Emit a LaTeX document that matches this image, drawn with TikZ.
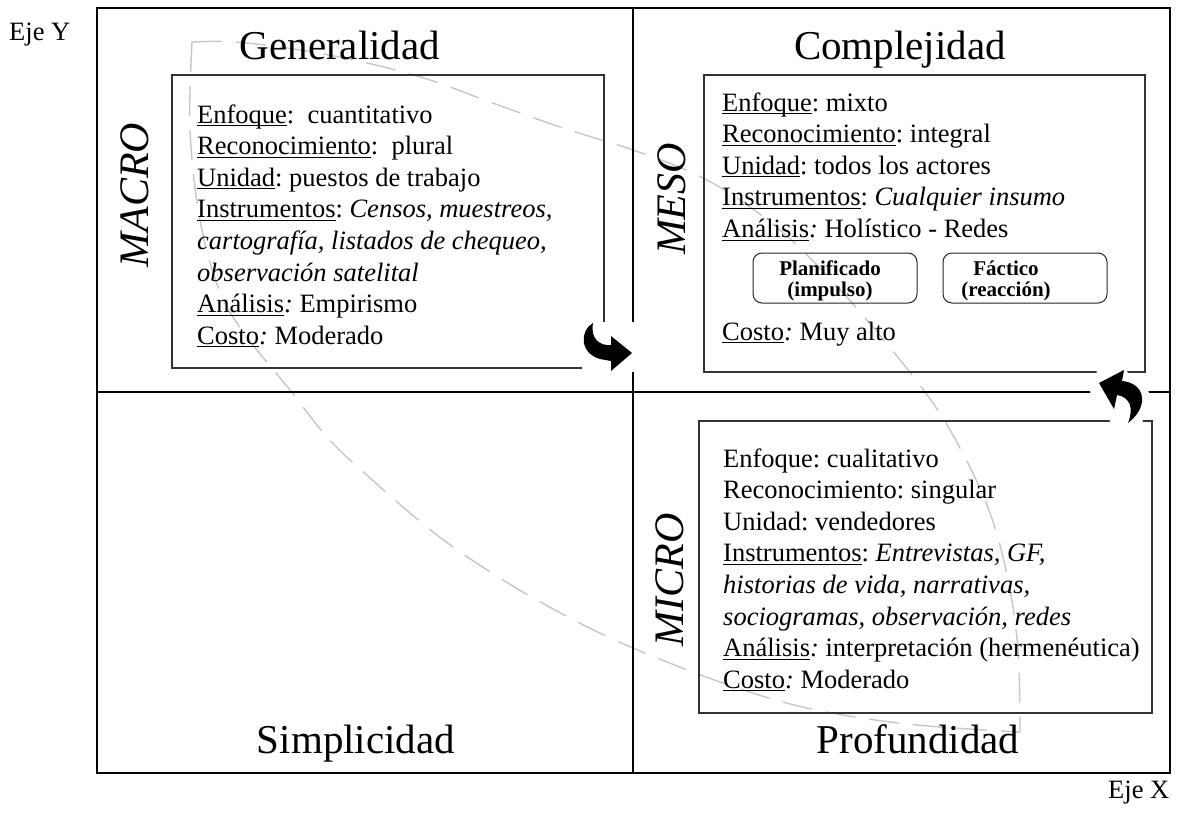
\documentclass[tikz,border=0pt]{standalone}
\usepackage{fontspec}
\setmainfont{Liberation Serif}
\frenchspacing
\newcommand{\ulw}[1]{\leavevmode\begingroup\setbox0\hbox{#1}\rlap{\rule[-3.2pt]{\wd0}{1.1pt}}\box0\endgroup}
\tikzset{
  frameline/.style={draw=black, line width=1.6pt},
  infobox/.style={draw=black!80, line width=1.2pt},
  lens/.style={draw=black!22, line width=1.4pt, dash pattern=on 30pt off 14pt, line cap=butt},
  bodytext/.style={anchor=base west, inner sep=0pt, font=\fontsize{26.5}{31.6}\selectfont},
  htitle/.style={anchor=base, inner sep=0pt, font=\fontsize{41}{49}\selectfont},
  vtitle/.style={anchor=base, inner sep=0pt, rotate=90, font=\fontsize{42}{50}\selectfont\itshape},
  axislabel/.style={anchor=base west, inner sep=0pt, font=\fontsize{26.5}{30}\selectfont},
  smallbox/.style={draw=black!85, line width=1pt, rounded corners=9pt, minimum width=164pt, minimum height=50pt, inner sep=0pt},
  smalltext/.style={inner sep=0pt, align=center, font=\fontsize{21}{21.5}\selectfont\bfseries},
  glyph/.style={fill=black, draw=none},
  mask/.style={fill=white, draw=none}
}
\begin{document}
\begin{tikzpicture}[x=1pt, y=-1pt]
\useasboundingbox (0,0) rectangle (1177,820);
\fill[white] (0,0) rectangle (1177,820);

% dashed lens
\draw[lens] plot[smooth, tension=0.6] coordinates {(192,42) (235,42) (300,50) (367,63) (430,80) (490,102) (563,128) (633,150) (697,175) (750,207) (800,248) (860,312) (925,392) (960,448) (990,513) (1008,580) (1018,650) (1020,732)};
\draw[lens] plot[smooth, tension=0.6] coordinates {(192,42) (190,130) (200,220) (220,292) (247,337) (290,390) (327,437) (370,478) (437,535) (503,580) (570,618) (633,648) (723,683) (807,708) (907,724) (1020,732)};

% frame and quadrants
\coordinate (tl) at (97,8);
\coordinate (br) at (1170,773);
\draw[frameline] (tl) rectangle (br);
\coordinate (vtop) at (633,8);
\coordinate (vbot) at (633,773);
\coordinate (hl) at (97,392);
\coordinate (hr) at (1170,392);
\draw[frameline] (vtop) -- (vbot);
\draw[frameline] (hl) -- (hr);

% info boxes
\draw[infobox] (172,75) rectangle (604,368);
\draw[infobox] (704,75) rectangle (1145,372);
\draw[infobox] (699,421) rectangle (1152,713);

% axis labels
\node[axislabel] (ejey) at (9,40) {Eje Y};
\node[axislabel] (ejex) at (1108,798) {Eje X};

% quadrant titles
\node[htitle] (gen) at (340,59) {Generalidad};
\node[htitle] (comp) at (900,59) {Complejidad};
\node[htitle] (simp) at (356,753) {Simplicidad};
\node[htitle] (prof) at (918,753) {Profundidad};

\node[vtitle] (macro) at (148,195) {MACRO};
\node[vtitle] (meso) at (685,199) {MESO};
\node[vtitle] (micro) at (683,580) {MICRO};

% MACRO text
\node[bodytext] (macrotxt) at (197,123) {\parbox[t]{400pt}{%
\ulw{Enfoque}:\ \ cuantitativo\\
\ulw{Reconocimiento}:\ \ plural\\
\ulw{Unidad}: puestos de trabajo\\
\ulw{Instrumentos}: \textit{Censos, muestreos,}\\
\textit{cartografía, listados de chequeo,}\\
\textit{observación satelital}\\
\ulw{Análisis}\textit{:} Empirismo\\
\ulw{Costo}\textit{:} Moderado}};

% MESO text
\node[bodytext] (mesotxt) at (722,111) {\parbox[t]{420pt}{%
\ulw{Enfoque}: mixto\\
\ulw{Reconocimiento}: integral\\
\ulw{Unidad}: todos los actores\\
\ulw{Instrumentos}: \textit{Cualquier insumo}\\
\ulw{Análisis}\textit{:} Holístico - Redes}};
\node[bodytext] (mesocosto) at (722,340) {\ulw{Costo}\textit{:} Muy alto};

\node[smallbox] (plan) at (835,278) {};
\node[smallbox] (fact) at (1025,278) {};
\node[smalltext] (plantxt) at (830,281) {Planificado\\(impulso)};
\node[smalltext] (facttxt) at (1006,281) {Fáctico\\(reacción)};

% MICRO text
\node[bodytext] (microtxt) at (723,467) {\parbox[t]{430pt}{%
Enfoque: cualitativo\\
Reconocimiento: singular\\
Unidad: vendedores\\
\ulw{Instrumentos}: \textit{Entrevistas, GF,}\\
\textit{historias de vida, narrativas,}\\
\textit{sociogramas, observación, redes}\\
\ulw{Análisis}\textit{:} interpretación (hermenéutica)\\
\ulw{Costo}\textit{:} Moderado}};

% curved arrow 1 (MACRO -> MESO)
\fill[mask] (582,322) rectangle (636,372);
\fill[glyph] (593,323) .. controls (580,330) and (579,353) .. (600,359)
  -- (611,361) -- (611,371) -- (632,353) -- (611,336) -- (611,345)
  .. controls (601,346) and (590,340) .. (593,323) -- cycle;

% curved arrow 2 (MICRO -> MESO)
\fill[mask] (1097,371) -- (1123,368) -- (1149,392) -- (1142,424) -- (1112,424) -- (1090,392) -- cycle;
\fill[glyph] (1099,383) -- (1124,370) -- (1122,381)
  .. controls (1145,383) and (1150,406) .. (1128,423)
  .. controls (1134,408) and (1130,397) .. (1117,395)
  -- (1114,409) -- cycle;
\end{tikzpicture}
\end{document}
